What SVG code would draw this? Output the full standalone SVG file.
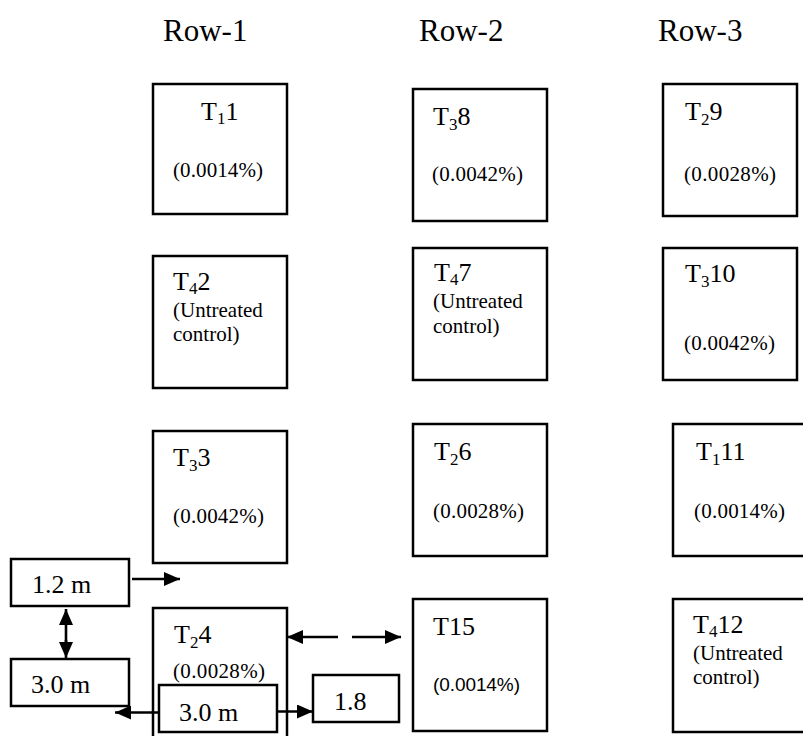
<svg xmlns="http://www.w3.org/2000/svg" width="803" height="736" viewBox="0 0 803 736">
<style>
  .box{fill:#fff;stroke:#000;stroke-width:2.5}
  text{font-family:"Liberation Serif","Times New Roman",serif;fill:#000}
  .hd{font-size:31px}
  .t{font-size:26px}
  .sub{font-size:17px}
  .v{font-size:21px}
  .u{font-size:21px}
  .s{font-family:"Liberation Sans",Arial,sans-serif;font-size:19px}
  .m{font-size:26px}
  .ln{stroke:#000;stroke-width:2.6;fill:none}
</style>
<defs>
  <marker id="ah" viewBox="0 0 16 14" refX="16" refY="7" markerWidth="16" markerHeight="14" markerUnits="userSpaceOnUse" orient="auto">
    <path d="M0,0 L16,7 L0,14 Z" fill="#000"/>
  </marker>
</defs>
<rect width="803" height="736" fill="#fff"/>

<g id="headers">
  <text class="hd" x="163" y="41">Row-1</text>
  <text class="hd" x="419" y="41">Row-2</text>
  <text class="hd" x="658" y="41">Row-3</text>
</g>

<g id="n1">
  <rect class="box" x="153" y="84" width="134" height="130"/>
  <text class="t" x="201" y="120">T<tspan class="sub" dy="4">1</tspan><tspan dy="-4">1</tspan></text>
  <text class="v" x="173" y="177" textLength="90" lengthAdjust="spacing">(0.0014%)</text>
</g>
<g id="n8">
  <rect class="box" x="413" y="89" width="134" height="132"/>
  <text class="t" x="433" y="125">T<tspan class="sub" dy="5">3</tspan><tspan dy="-5">8</tspan></text>
  <text class="v" x="432" y="181" textLength="91" lengthAdjust="spacing">(0.0042%)</text>
</g>
<g id="n9">
  <rect class="box" x="663" y="84" width="134" height="132"/>
  <text class="t" x="685" y="120">T<tspan class="sub" dy="5">2</tspan><tspan dy="-5">9</tspan></text>
  <text class="v" x="684" y="181" textLength="92" lengthAdjust="spacing">(0.0028%)</text>
</g>

<g id="n2">
  <rect class="box" x="153" y="256" width="134" height="132"/>
  <text class="t" x="173" y="290">T<tspan class="sub" dy="4">4</tspan><tspan dy="-4">2</tspan></text>
  <text class="u" x="173" y="317">(Untreated</text>
  <text class="u" x="173" y="341">control)</text>
</g>
<g id="n7">
  <rect class="box" x="413" y="248" width="134" height="132"/>
  <text class="t" x="434" y="281">T<tspan class="sub" dy="4">4</tspan><tspan dy="-4">7</tspan></text>
  <text class="u" x="433" y="308">(Untreated</text>
  <text class="u" x="433" y="333">control)</text>
</g>
<g id="n10">
  <rect class="box" x="663" y="248" width="134" height="132"/>
  <text class="t" x="685" y="282">T<tspan class="sub" dy="5">3</tspan><tspan dy="-5">10</tspan></text>
  <text class="v" x="684" y="350" textLength="91" lengthAdjust="spacing">(0.0042%)</text>
</g>

<g id="n3">
  <rect class="box" x="153" y="431" width="134" height="132"/>
  <text class="t" x="173" y="466">T<tspan class="sub" dy="5">3</tspan><tspan dy="-5">3</tspan></text>
  <text class="v" x="173" y="523" textLength="91" lengthAdjust="spacing">(0.0042%)</text>
</g>
<g id="n6">
  <rect class="box" x="413" y="424" width="134" height="132"/>
  <text class="t" x="434" y="460">T<tspan class="sub" dy="5">2</tspan><tspan dy="-5">6</tspan></text>
  <text class="v" x="433" y="518" textLength="91" lengthAdjust="spacing">(0.0028%)</text>
</g>
<g id="n11">
  <rect class="box" x="673" y="424" width="134" height="132"/>
  <text class="t" x="696" y="460">T<tspan class="sub" dy="5">1</tspan><tspan dy="-5">11</tspan></text>
  <text class="v" x="694" y="518" textLength="91" lengthAdjust="spacing">(0.0014%)</text>
</g>

<g id="n4">
  <rect class="box" x="153" y="608" width="134" height="134"/>
  <text class="t" x="174" y="643">T<tspan class="sub" dy="5">2</tspan><tspan dy="-5">4</tspan></text>
  <text class="v" x="173" y="678" textLength="92" lengthAdjust="spacing">(0.0028%)</text>
</g>
<g id="n5">
  <rect class="box" x="413" y="599" width="134" height="132"/>
  <text class="t" x="433" y="635">T15</text>
  <text class="s" x="433" y="691" textLength="87" lengthAdjust="spacing">(0.0014%)</text>
</g>
<g id="n12">
  <rect class="box" x="673" y="599" width="134" height="133"/>
  <text class="t" x="693" y="633">T<tspan class="sub" dy="4">4</tspan><tspan dy="-4">12</tspan></text>
  <text class="u" x="693" y="660">(Untreated</text>
  <text class="u" x="693" y="684">control)</text>
</g>

<g id="m12">
  <rect class="box" x="11" y="559" width="118" height="47"/>
  <text class="m" x="32" y="593">1.2 m</text>
</g>
<g id="m30a">
  <rect class="box" x="11" y="659" width="118" height="47"/>
  <text class="m" x="31" y="693">3.0 m</text>
</g>
<g id="m30b">
  <rect class="box" x="159" y="685" width="118" height="47"/>
  <text class="m" x="179" y="721">3.0 m</text>
</g>
<g id="m18">
  <rect class="box" x="313" y="675" width="86" height="47"/>
  <text class="m" x="334" y="710">1.8</text>
</g>

<g id="connectors">
  <line class="ln" x1="132" y1="579" x2="180" y2="579" marker-end="url(#ah)"/>
  <line class="ln" x1="66" y1="625" x2="66" y2="609" stroke-width="3" marker-end="url(#ah)"/>
  <line class="ln" x1="66" y1="640" x2="66" y2="658" stroke-width="3" marker-end="url(#ah)"/>
  <line class="ln" x1="66" y1="620" x2="66" y2="647" stroke-width="3"/>
  <line class="ln" x1="159" y1="712.5" x2="115" y2="712.5" marker-end="url(#ah)"/>
  <line class="ln" x1="277" y1="711.5" x2="313" y2="711.5" marker-end="url(#ah)"/>
  <line class="ln" x1="338" y1="637" x2="287" y2="637" marker-end="url(#ah)"/>
  <line class="ln" x1="352" y1="637" x2="401" y2="637" marker-end="url(#ah)"/>
</g>
</svg>
